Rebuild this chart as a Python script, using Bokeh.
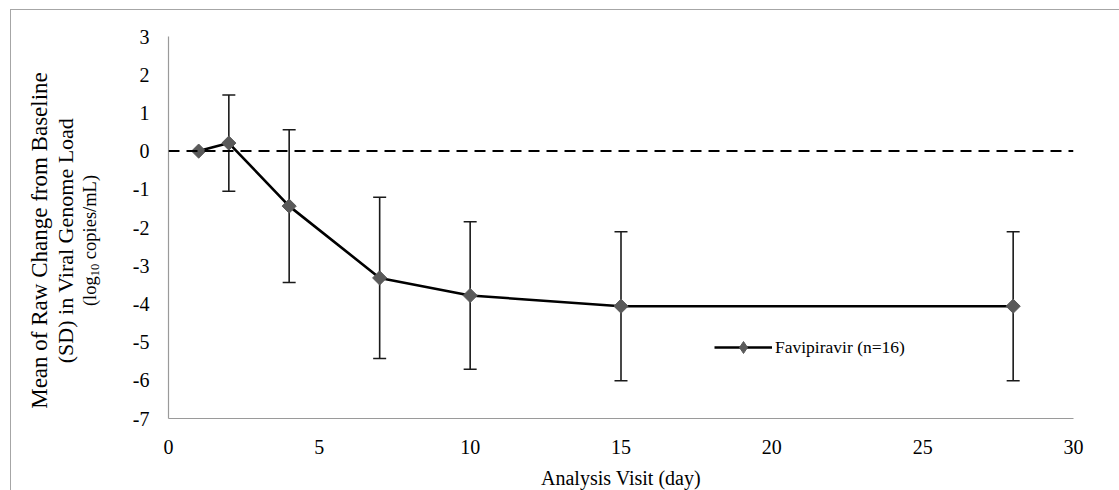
import math

from bokeh.embed import file_html
from bokeh.layouts import row
from bokeh.models import (ColumnDataSource, FixedTicker, Label, Legend,
                          LegendItem, Range1d, Span, TeeHead, Whisker)
from bokeh.plotting import figure
from bokeh.resources import INLINE

# Mean change from baseline (log10 copies/mL) with SD, by analysis visit day
days = [1, 2, 4, 7, 10, 15, 28]
mean_change = [0.0, 0.21, -1.44, -3.32, -3.78, -4.06, -4.06]
sd_change = [0.0, 1.26, 2.0, 2.11, 1.93, 1.95, 1.95]
series_name = "Favipiravir (n=16)"

x_ticks = [0, 5, 10, 15, 20, 25, 30]
y_ticks = [-7, -6, -5, -4, -3, -2, -1, 0, 1, 2, 3]

SERIF = "'Liberation Serif', 'Times New Roman', serif"
AXIS_GREY = "#9a9a9a"
MARKER_GREY = "#5a5a5a"

lower = [m - s for m, s in zip(mean_change, sd_change)]
upper = [m + s for m, s in zip(mean_change, sd_change)]
src = ColumnDataSource(dict(day=days, mean=mean_change, lower=lower, upper=upper))
# day 1 is the baseline visit, so it carries no error bar
bar_src = ColumnDataSource(dict(day=days[1:], lower=lower[1:], upper=upper[1:]))

H = 481
TITLE_W = 110
PLOT_W = 999

# ---- main chart -------------------------------------------------------
p = figure(
    width=PLOT_W, height=H,
    x_range=Range1d(0, 30), y_range=Range1d(-7, 3),
    output_backend="svg", toolbar_location=None,
    min_border_left=47, min_border_right=47,
    min_border_top=26, min_border_bottom=72,
)
p.outline_line_color = None
p.grid.visible = False
p.background_fill_color = "white"
p.border_fill_color = "white"

for ax in (p.xaxis[0], p.yaxis[0]):
    ax.axis_line_color = AXIS_GREY
    ax.axis_line_width = 1.2
    ax.major_tick_line_color = None
    ax.minor_tick_line_color = None
    ax.major_tick_out = 0
    ax.major_tick_in = 0
    ax.major_label_text_font = SERIF
    ax.major_label_text_font_size = "20px"
    ax.major_label_text_color = "black"

p.xaxis.ticker = FixedTicker(ticks=x_ticks)
p.yaxis.ticker = FixedTicker(ticks=y_ticks)
# plain hyphen-minus for negative tick labels
p.yaxis.major_label_overrides = {t: str(t) for t in y_ticks}
p.xaxis.major_label_standoff = 21
p.yaxis.major_label_standoff = 19

p.xaxis.axis_label = "Analysis Visit (day)"
p.xaxis.axis_label_text_font = SERIF
p.xaxis.axis_label_text_font_size = "20px"
p.xaxis.axis_label_text_font_style = "normal"
p.xaxis.axis_label_text_color = "black"
p.xaxis.axis_label_standoff = 10

# zero reference line
p.add_layout(Span(location=0, dimension="width", line_color="black",
                  line_width=2, line_dash="11 7"))

# SD error bars
p.add_layout(Whisker(
    source=bar_src, base="day", lower="lower", upper="upper",
    line_color="#1a1a1a", line_width=1.6,
    lower_head=TeeHead(size=13, line_color="#1a1a1a", line_width=1.6),
    upper_head=TeeHead(size=13, line_color="#1a1a1a", line_width=1.6),
))

line_r = p.line("day", "mean", source=src, line_color="black", line_width=2.6)
# diamond key for the legend; sits fully inside the point markers drawn over it
key_r = p.scatter("day", "mean", source=src, marker="diamond", size=12,
                  fill_color=MARKER_GREY, line_color=MARKER_GREY)
p.scatter("day", "mean", source=src, marker="square", size=10,
          angle=math.pi / 4, fill_color=MARKER_GREY, line_color=MARKER_GREY)

legend = Legend(items=[LegendItem(label=series_name, renderers=[line_r, key_r])],
                location=(546, 56))
legend.border_line_color = None
legend.background_fill_alpha = 0
legend.padding = 0
legend.margin = 0
legend.glyph_width = 58
legend.glyph_height = 30
legend.label_standoff = 3
legend.label_text_font = SERIF
legend.label_text_font_size = "17.5px"
legend.label_text_color = "black"
p.add_layout(legend)

# ---- y-axis title panel: three rotated lines, the last with a subscript --
t = figure(width=TITLE_W, height=H, output_backend="svg", toolbar_location=None,
           min_border=0, x_range=Range1d(0, 1), y_range=Range1d(0, 1))
t.axis.visible = False
t.grid.visible = False
t.outline_line_color = None
t.background_fill_color = "white"
t.border_fill_color = "white"

title_kw = dict(x_units="screen", y_units="screen", angle=math.pi / 2,
                text_font=SERIF, text_color="black", text_baseline="middle")
MID = 178
t.add_layout(Label(x=28, y=MID, text="Mean of Raw Change from Baseline",
                   text_align="center", text_font_size="23px", **title_kw))
t.add_layout(Label(x=54, y=MID, text="(SD) in Viral Genome Load",
                   text_align="center", text_font_size="22px", **title_kw))

F = 18.5
SUB = 12.5
w_log = 1.611 * F
w_sub = 1.0 * SUB
w_space = 0.25 * F
w_rest = 4.555 * F
start = MID - (w_log + w_sub + w_space + w_rest) / 2
t.add_layout(Label(x=78, y=start, text="(log", text_align="left",
                   text_font_size=f"{F}px", **title_kw))
t.add_layout(Label(x=83, y=start + w_log, text="10", text_align="left",
                   text_font_size=f"{SUB}px", **title_kw))
t.add_layout(Label(x=78, y=start + w_log + w_sub + w_space, text="copies/mL)",
                   text_align="left", text_font_size=f"{F}px", **title_kw))

layout = row(t, p, spacing=0)
layout.styles = {
    "margin-left": "10px",
    "margin-top": "9px",
    "border-left": "1px solid #a6a6a6",
    "border-top": "1px solid #a6a6a6",
}

open("out.html", "w").write(file_html(layout, INLINE))
